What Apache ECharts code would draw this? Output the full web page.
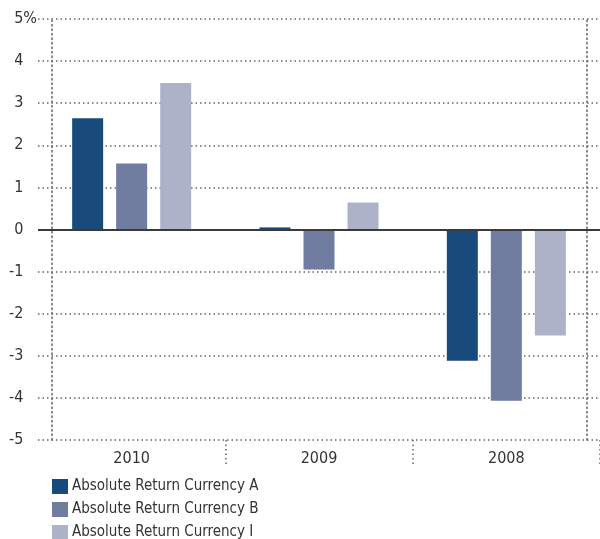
<!DOCTYPE html>
<html>
<head>
<meta charset="utf-8">
<script src="https://cdn.jsdelivr.net/npm/echarts@6/dist/echarts.min.js"></script>
<style>
  html, body { margin: 0; padding: 0; background: #fff; }
  #chart { width: 600px; height: 539px; }
</style>
</head>
<body>
<div id="chart"></div>
<script>
// data
const years = ['2010', '2009', '2008'];
const currencyA = [2.64, 0.05, -3.12];
const currencyB = [1.57, -0.95, -4.07];
const currencyI = [3.48, 0.64, -2.52];
const seriesNames = ['Absolute Return Currency A', 'Absolute Return Currency B', 'Absolute Return Currency I'];
const colors = ['#184a7b', '#707ca0', '#adb2c8'];

const FONT = '"Liberation Sans Narrow", "DejaVu Sans Condensed", "Liberation Sans", sans-serif';
const dotted = { color: '#666', width: 1.5, type: [1.5, 3] };

const chart = echarts.init(document.getElementById('chart'));

const series = [currencyA, currencyB, currencyI].map((values, i) => {
  const s = {
    name: seriesNames[i],
    type: 'bar',
    data: values,
    barWidth: 31,
    barGap: '42%',
    itemStyle: { color: colors[i] },
    z: 3
  };
  if (i === 0) {
    // zero line
    s.markLine = {
      silent: true,
      symbol: 'none',
      label: { show: false },
      lineStyle: { color: '#3a3a3a', width: 2, type: 'solid' },
      data: [{ yAxis: 0 }],
      z: 4
    };
  }
  return s;
});

chart.setOption({
  animation: false,
  textStyle: { fontFamily: FONT },
  grid: { left: 38, right: -2, top: 19, bottom: 99, containLabel: false },
  legend: {
    orient: 'vertical',
    left: 52,
    top: 479,
    height: 90,
    padding: 0,
    icon: 'rect',
    itemWidth: 16,
    itemHeight: 15,
    itemGap: 8,
    selectedMode: false,
    textStyle: { fontFamily: FONT, fontSize: 15, color: '#333', padding: [0, 0, 0, -1] },
    data: seriesNames
  },
  xAxis: {
    type: 'category',
    data: years,
    axisLine: { show: false, onZero: false },
    axisTick: {
      show: true,
      length: 24,
      interval: (index) => index > 0,
      lineStyle: dotted
    },
    axisLabel: { fontFamily: FONT, fontSize: 16, color: '#333', margin: 11 },
    splitLine: { show: false }
  },
  yAxis: [{
    type: 'value',
    min: -5,
    max: 5,
    interval: 1,
    offset: -14,
    axisLine: { show: true, lineStyle: dotted },
    axisTick: { show: false },
    axisLabel: {
      fontFamily: FONT,
      fontSize: 16,
      color: '#333',
      margin: 15,
      // only the top label shows the % sign, the others keep its space
      formatter: (v) => v === 5 ? '{n|5}{p|%}' : '{n|' + v + '}{h|%}',
      rich: {
        n: { fontFamily: FONT, fontSize: 16, color: '#333' },
        p: { fontFamily: FONT, fontSize: 16, color: '#333' },
        h: { fontFamily: FONT, fontSize: 16, color: 'rgba(0,0,0,0)' }
      }
    },
    splitLine: { show: true, lineStyle: dotted }
  }, {
    type: 'value',
    min: -5,
    max: 5,
    interval: 1,
    position: 'right',
    offset: -13,
    axisLine: { show: true, lineStyle: dotted },
    axisTick: { show: false },
    axisLabel: { show: false },
    splitLine: { show: false }
  }],
  series: series
});
</script>
</body>
</html>
